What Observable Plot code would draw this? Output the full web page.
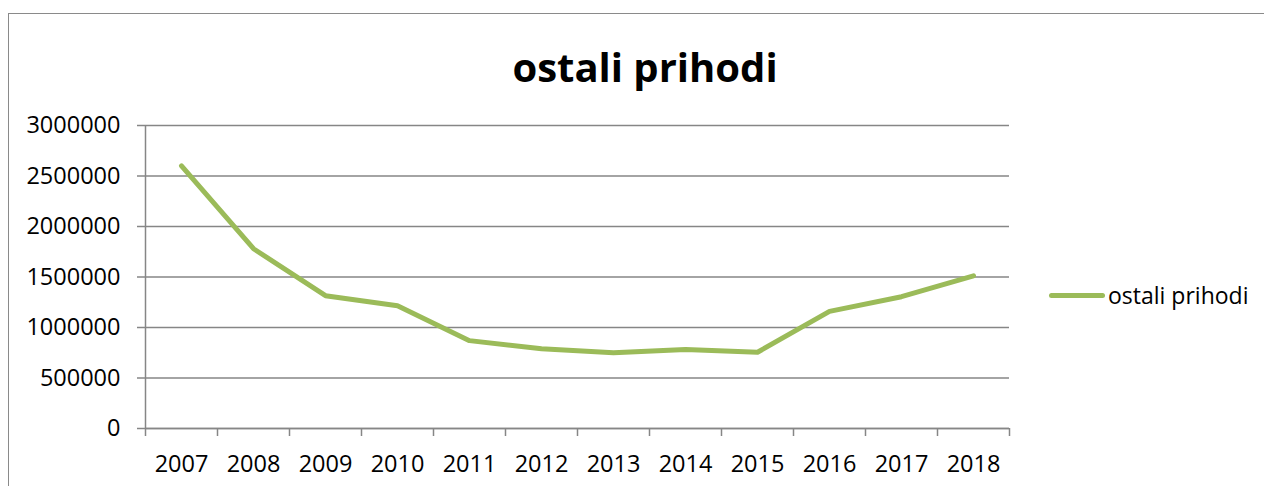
<!DOCTYPE html>
<html>
<head>
<meta charset="utf-8">
<script src="https://cdn.jsdelivr.net/npm/d3@7"></script>
<script src="https://cdn.jsdelivr.net/npm/@observablehq/plot@0.6"></script>
<style>
  html, body { margin: 0; padding: 0; background: #fff; }
  #wrap { position: relative; width: 1264px; height: 486px; overflow: hidden; font-family: "Open Sans", sans-serif; }
  #frame { position: absolute; left: 8px; top: 13px; width: 1300px; height: 500px; border-left: 1.5px solid #8a8a8a; border-top: 1.5px solid #8a8a8a; }
  #title { position: absolute; left: 0; width: 1290px; top: 39px; text-align: center; font-weight: bold; font-size: 40px; color: #000; }
  #legend { position: absolute; left: 1049px; top: 279px; display: flex; align-items: center; font-size: 23px; color: #000; }
  #legend .sw { width: 56px; height: 5px; background: #9BBB59; border-radius: 3px; margin-right: 3px; }
  #chart { position: absolute; left: 0; top: 0; }
</style>
</head>
<body>
<div id="wrap">
  <div id="frame"></div>
  <div id="chart"></div>
  <div id="title">ostali prihodi</div>
  <div id="legend"><div class="sw"></div><span>ostali prihodi</span></div>
</div>
<script>
const years = [2007, 2008, 2009, 2010, 2011, 2012, 2013, 2014, 2015, 2016, 2017, 2018];
const values = [2600000, 1780000, 1315000, 1215000, 870000, 790000, 750000, 782000, 755000, 1160000, 1305000, 1512000];
const yTicks = [0, 500000, 1000000, 1500000, 2000000, 2500000, 3000000];
const seriesName = "ostali prihodi";

const data = years.map((y, i) => ({year: y, value: values[i]}));
const boundaries = years.map(y => y - 0.5).concat([years[years.length - 1] + 0.5]);
const gray = "#868686";

const plot = Plot.plot({
  width: 1264,
  height: 486,
  marginLeft: 145,
  marginRight: 255,
  marginTop: 125,
  marginBottom: 58,
  style: {fontFamily: "Open Sans, sans-serif", fontSize: "23.5px", color: "#000", background: "transparent"},
  x: {domain: [boundaries[0], boundaries[boundaries.length - 1]]},
  y: {domain: [0, 3000000]},
  marks: [
    Plot.gridY(yTicks, {stroke: gray, strokeOpacity: 1, strokeWidth: 1.5}),
    Plot.axisY({ticks: yTicks, tickSize: 8, tickPadding: 17, tickFormat: d => String(d), stroke: gray, strokeWidth: 1.5, label: null, fill: "#000", fontSize: 23.5}),
    Plot.ruleX([boundaries[0]], {stroke: gray, strokeWidth: 1.5}),
    Plot.axisX({ticks: boundaries, tickSize: 8, tickFormat: () => "", stroke: gray, strokeWidth: 1.5, label: null}),
    Plot.axisX({ticks: years, tickSize: 0, tickPadding: 27, tickFormat: d => String(d), label: null, fill: "#000", fontSize: 23.5}),
    Plot.ruleY([0], {stroke: gray, strokeWidth: 1.5}),
    Plot.line(data, {x: "year", y: "value", stroke: "#9BBB59", strokeWidth: 5, strokeLinejoin: "round", strokeLinecap: "round"})
  ]
});
document.getElementById("chart").appendChild(plot);
</script>
</body>
</html>
